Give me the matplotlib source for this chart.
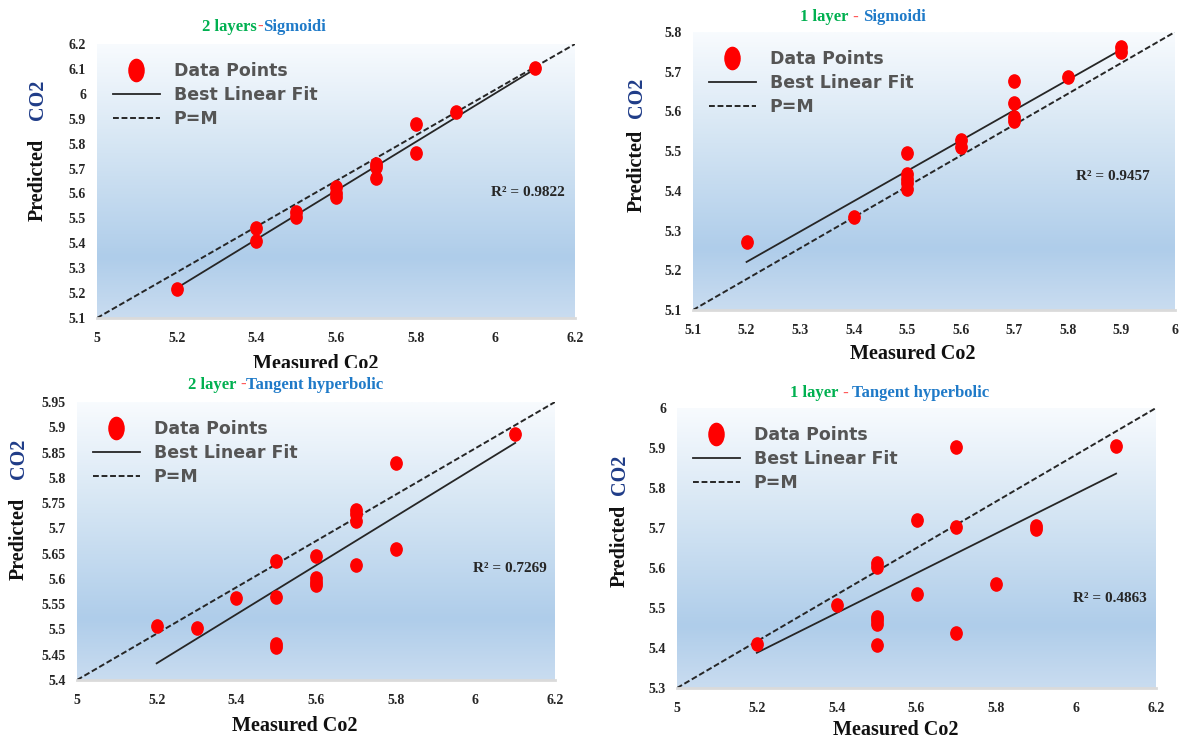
import numpy as np
import matplotlib
matplotlib.use('Agg')
import matplotlib.pyplot as plt
from matplotlib.path import Path
from matplotlib.transforms import Affine2D, Bbox
from matplotlib.colors import LinearSegmentedColormap
from matplotlib.lines import Line2D
from matplotlib.offsetbox import TextArea, HPacker, AnnotationBbox

# ---- 2 layers, sigmoid ----
sig2_measured  = [5.2, 5.4, 5.4, 5.5, 5.5, 5.6, 5.6, 5.6, 5.7, 5.7, 5.7, 5.8, 5.8, 5.9, 6.1]
sig2_predicted = [5.216, 5.46, 5.41, 5.527, 5.504, 5.625, 5.603, 5.585, 5.717, 5.707, 5.663,
                  5.879, 5.761, 5.927, 6.102]
sig2_fit_x = [5.2, 6.1]
sig2_fit_y = [5.22, 6.10]
sig2_pm_x = [5.0, 6.2]
sig2_pm_y = [5.1, 6.2]
sig2_r2 = 0.9822
sig2_xticks = [5, 5.2, 5.4, 5.6, 5.8, 6, 6.2]
sig2_yticks = [5.1, 5.2, 5.3, 5.4, 5.5, 5.6, 5.7, 5.8, 5.9, 6.0, 6.1, 6.2]

# ---- 1 layer, sigmoid ----
sig1_measured  = [5.2, 5.4, 5.5, 5.5, 5.5, 5.5, 5.5, 5.6, 5.6, 5.7, 5.7, 5.7, 5.7, 5.8, 5.9, 5.9]
sig1_predicted = [5.272, 5.335, 5.496, 5.442, 5.431, 5.420, 5.404, 5.528, 5.511, 5.677, 5.620,
                  5.586, 5.576, 5.687, 5.763, 5.750]
sig1_fit_x = [5.2, 5.9]
sig1_fit_y = [5.221, 5.756]
sig1_pm_x = [5.1, 6.0]
sig1_pm_y = [5.1, 5.8]
sig1_r2 = 0.9457
sig1_xticks = [5.1, 5.2, 5.3, 5.4, 5.5, 5.6, 5.7, 5.8, 5.9, 6]
sig1_yticks = [5.1, 5.2, 5.3, 5.4, 5.5, 5.6, 5.7, 5.8]

# ---- 2 layers, tangent hyperbolic ----
tanh2_measured  = [5.2, 5.3, 5.4, 5.5, 5.5, 5.5, 5.5, 5.6, 5.6, 5.6, 5.6, 5.7, 5.7, 5.7, 5.7,
                   5.8, 5.8, 6.1]
tanh2_predicted = [5.507, 5.502, 5.563, 5.636, 5.565, 5.471, 5.465, 5.646, 5.601, 5.594, 5.588,
                   5.736, 5.728, 5.715, 5.627, 5.830, 5.659, 5.887]
tanh2_fit_x = [5.2, 6.1]
tanh2_fit_y = [5.433, 5.869]
tanh2_pm_x = [5.0, 6.2]
tanh2_pm_y = [5.4, 5.95]
tanh2_r2 = 0.7269
tanh2_xticks = [5, 5.2, 5.4, 5.6, 5.8, 6, 6.2]
tanh2_yticks = [5.4, 5.45, 5.5, 5.55, 5.6, 5.65, 5.7, 5.75, 5.8, 5.85, 5.9, 5.95]

# ---- 1 layer, tangent hyperbolic ----
tanh1_measured  = [5.2, 5.4, 5.5, 5.5, 5.5, 5.5, 5.5, 5.5, 5.6, 5.6, 5.7, 5.7, 5.7, 5.8,
                   5.9, 5.9, 6.1]
tanh1_predicted = [5.411, 5.508, 5.613, 5.603, 5.478, 5.469, 5.461, 5.408, 5.719, 5.536,
                   5.902, 5.703, 5.438, 5.561, 5.706, 5.698, 5.906]
tanh1_fit_x = [5.2, 6.1]
tanh1_fit_y = [5.388, 5.836]
tanh1_pm_x = [5.0, 6.2]
tanh1_pm_y = [5.3, 6.0]
tanh1_r2 = 0.4863
tanh1_xticks = [5, 5.2, 5.4, 5.6, 5.8, 6, 6.2]
tanh1_yticks = [5.3, 5.4, 5.5, 5.6, 5.7, 5.8, 5.9, 6.0]

GREEN, RED, BLUE, NAVY = '#00b050', '#ff5a5a', '#1f7ac8', '#1f3c88'

# layout in pixels, measured from the top-left corner of the figure
W, H = 1180, 740
panels = [
    dict(x=sig2_measured, y=sig2_predicted, fx=sig2_fit_x, fy=sig2_fit_y, px=sig2_pm_x, py=sig2_pm_y,
         r2=sig2_r2, xt=sig2_xticks, yt=sig2_yticks,
         title=[('2 layers', GREEN), ('-', RED), ('Sigmoidi', BLUE)],
         rect=(97, 44, 575, 318), title_at=(264, 27), pred_at=(38, 180), co2_at=(38, 100),
         xlab_at=(316, 369), r2_at=(528, 192), clip_bottom=368),
    dict(x=sig1_measured, y=sig1_predicted, fx=sig1_fit_x, fy=sig1_fit_y, px=sig1_pm_x, py=sig1_pm_y,
         r2=sig1_r2, xt=sig1_xticks, yt=sig1_yticks,
         title=[('1 layer', GREEN), (' - ', RED), ('Sigmoidi', BLUE)],
         rect=(693, 32, 1175, 310), title_at=(863, 17), pred_at=(637, 171), co2_at=(637, 98),
         xlab_at=(913, 359), r2_at=(1113, 177), clip_bottom=None),
    dict(x=tanh2_measured, y=tanh2_predicted, fx=tanh2_fit_x, fy=tanh2_fit_y, px=tanh2_pm_x, py=tanh2_pm_y,
         r2=tanh2_r2, xt=tanh2_xticks, yt=tanh2_yticks,
         title=[('2 layer ', GREEN), ('-', RED), ('Tangent hyperbolic', BLUE)],
         rect=(77, 402, 555, 680), title_at=(286, 385), pred_at=(19, 539), co2_at=(19, 459),
         xlab_at=(295, 731), r2_at=(510, 568), clip_bottom=None),
    dict(x=tanh1_measured, y=tanh1_predicted, fx=tanh1_fit_x, fy=tanh1_fit_y, px=tanh1_pm_x, py=tanh1_pm_y,
         r2=tanh1_r2, xt=tanh1_xticks, yt=tanh1_yticks,
         title=[('1 layer', GREEN), (' - ', RED), ('Tangent hyperbolic', BLUE)],
         rect=(677, 408, 1156, 688), title_at=(890, 393), pred_at=(620, 546), co2_at=(620, 475),
         xlab_at=(896, 735), r2_at=(1110, 598), clip_bottom=None),
]

plt.rcParams['font.family'] = 'serif'
plt.rcParams['font.serif'] = ['Liberation Serif', 'DejaVu Serif']

fig = plt.figure(figsize=(W / 100, H / 100), dpi=100)
fig.patch.set_facecolor('white')


def fpos(px, py):
    return px / W, 1 - py / H


# red ellipses, a bit taller than wide
dot = Path.unit_circle().transformed(Affine2D().scale(0.86, 1.0))
big_dot = Path.unit_circle().transformed(Affine2D().scale(0.68, 1.0))

# plot area fill: pale at the top, deeper blue lower down, lighter at the base
bg_cmap = LinearSegmentedColormap.from_list(
    'plotarea', [(0.0, '#c9dcf0'), (0.22, '#afcdea'), (0.6, '#d3e4f3'), (1.0, '#f8fbfe')])
grad = np.linspace(0, 1, 256).reshape(-1, 1)

for p in panels:
    x0, y0, x1, y1 = p['rect']
    ax = fig.add_axes([x0 / W, 1 - y1 / H, (x1 - x0) / W, (y1 - y0) / H])
    ax.imshow(grad, cmap=bg_cmap, origin='lower', extent=[0, 1, 0, 1],
              transform=ax.transAxes, aspect='auto', zorder=0)

    ax.plot(p['px'], p['py'], color='#262626', lw=1.4, ls=(0, (3, 1.4)), zorder=2)
    ax.plot(p['fx'], p['fy'], color='#262626', lw=1.3, zorder=2)
    ax.plot(p['x'], p['y'], ls='none', marker=dot, ms=9.5, mfc='#ff0000', mec='#ff0000', zorder=3)

    ax.set_xlim(p['xt'][0], p['xt'][-1])
    ax.set_ylim(p['yt'][0], p['yt'][-1])
    ax.set_xticks(p['xt'])
    ax.set_yticks(p['yt'])
    ax.set_xticklabels([f'{v:g}' for v in p['xt']])
    ax.set_yticklabels([f'{v:g}' for v in p['yt']])
    ax.tick_params(length=0, labelsize=10, colors='#262626')
    ax.tick_params(axis='x', pad=10)
    ax.tick_params(axis='y', pad=8)
    for lab in ax.get_xticklabels() + ax.get_yticklabels():
        lab.set_fontweight('bold')
    for side in ['top', 'left', 'right']:
        ax.spines[side].set_visible(False)
    ax.spines['bottom'].set_color('#dadada')
    ax.spines['bottom'].set_linewidth(2)

    handles = [
        Line2D([], [], ls='none', marker=big_dot, ms=16, mfc='#ff0000', mec='#ff0000'),
        Line2D([], [], color='#262626', lw=1.3),
        Line2D([], [], color='#262626', lw=1.4, ls=(0, (3, 1.4))),
    ]
    ax.legend(handles, ['Data Points', 'Best Linear Fit', 'P=M'],
              loc='upper left', bbox_to_anchor=(16 / (x1 - x0), 1 - 18 / (y1 - y0)),
              frameon=False, borderpad=0, borderaxespad=0,
              handlelength=2.7, handletextpad=0.8, labelspacing=0.35,
              prop=dict(family='DejaVu Sans', size=12.5, weight='bold'), labelcolor='#555555')

    rx, ry = fpos(*p['r2_at'])
    fig.text(rx, ry, f'R² = {p["r2"]}', ha='center', va='center',
             fontsize=11, fontweight='bold', color='#262626')

    # two-colour rotated axis title
    tx, ty = fpos(*p['pred_at'])
    fig.text(tx, ty, 'Predicted', rotation=90, ha='center', va='center',
             fontsize=14.5, fontweight='bold', color='#111111')
    tx, ty = fpos(*p['co2_at'])
    fig.text(tx, ty, 'CO2', rotation=90, ha='center', va='center',
             fontsize=14.5, fontweight='bold', color=NAVY)

    tx, ty = fpos(*p['xlab_at'])
    xl = fig.text(tx, ty, 'Measured Co2', ha='center', va='baseline',
                  fontsize=14.5, fontweight='bold', color='#111111')
    if p['clip_bottom'] is not None:
        xl.set_clip_box(Bbox.from_extents(0, H - p['clip_bottom'], W, H))
        xl.set_clip_on(True)

    # multi-coloured panel title
    parts = [TextArea(s, textprops=dict(color=c, fontsize=12, fontweight='bold'))
             for s, c in p['title']]
    box = HPacker(children=parts, align='baseline', pad=0, sep=0)
    ab = AnnotationBbox(box, fpos(*p['title_at']), xycoords='figure fraction',
                        frameon=False, box_alignment=(0.5, 0.5))
    fig.add_artist(ab)

fig.savefig('out.png', dpi=100)
